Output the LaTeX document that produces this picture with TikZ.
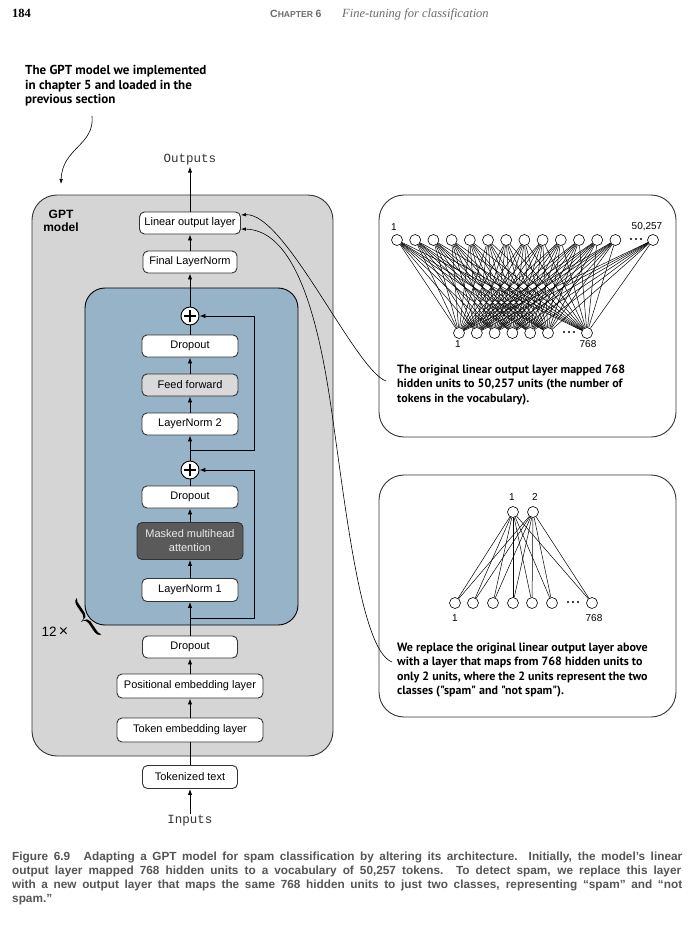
\documentclass[tikz,border=0pt]{standalone}
\usepackage{fontspec}
\setmainfont{Liberation Sans}
\newfontfamily\boxfont{Liberation Sans}
\newfontfamily\monofont{Liberation Mono}
\newfontfamily\notefont{PT Sans}
\newfontfamily\serifhead{Liberation Serif}
\newfontfamily\capfont{Liberation Sans}
\usetikzlibrary{arrows.meta,calc}

\definecolor{gptgray}{HTML}{D5D5D5}
\definecolor{blockblue}{HTML}{96B3C8}
\definecolor{ffgray}{HTML}{D9D9D9}
\definecolor{attgray}{HTML}{5A5A5A}
\definecolor{edgegray}{HTML}{333333}
\definecolor{capgray}{HTML}{555555}

\tikzset{
  layer/.style={draw=edgegray, line width=0.9pt, rounded corners=5pt, fill=white,
    font=\boxfont\fontsize{11}{13}\selectfont, inner sep=0pt, minimum height=22pt},
  flow/.style={-{Latex[length=6pt,width=4.5pt]}, line width=0.9pt},
  plain/.style={line width=0.9pt},
  plus/.style={circle, draw=black, fill=white, line width=0.9pt, minimum size=18pt, inner sep=0pt,
    path picture={\draw[line width=1.1pt]
      ([xshift=-6pt]path picture bounding box.center) -- ([xshift=6pt]path picture bounding box.center)
      ([yshift=-6pt]path picture bounding box.center) -- ([yshift=6pt]path picture bounding box.center);}},
  mono/.style={font=\monofont\fontsize{12.5}{14}\selectfont, text=edgegray, inner sep=1pt},
  panel/.style={draw=edgegray, line width=0.9pt, rounded corners=25pt, fill=white},
  unit/.style={circle, draw=black, fill=white, minimum size=11pt, inner sep=0pt, line width=0.6pt},
  net/.style={line width=0.5pt},
  unitlabel/.style={font=\boxfont\fontsize{10}{12}\selectfont, inner sep=0pt},
  note/.style={font=\notefont\bfseries\fontsize{12}{14.2}\selectfont, align=left, inner sep=0pt},
  notearrow/.style={-{Latex[length=5pt,width=3.5pt]}, line width=0.6pt},
  capline/.style={font=\capfont\bfseries\fontsize{11.8}{13}\selectfont, text=capgray, anchor=base west, inner sep=0pt}
}
% three dots standing for the units left out of a layer
\newcommand\elide[1]{\foreach \k in {-5,0,5} \fill ($(#1)+(\k,0)$) circle (1.15pt);}

\begin{document}
\begin{tikzpicture}[x=1pt,y=-1pt]
\useasboundingbox[fill=white] (0,0) rectangle (694,932);

% page header
\node[anchor=base west, inner sep=0pt, font=\serifhead\bfseries\fontsize{12.5}{14}\selectfont] (pagenum) at (12,17) {184};
\node[anchor=base west, inner sep=0pt, text=gray!85!black, font=\boxfont\bfseries] (chapter) at (270,17)
  {\fontsize{10.5}{12}\selectfont C\fontsize{8.6}{12}\selectfont HAPTER \fontsize{10.5}{12}\selectfont 6};
\node[anchor=base west, inner sep=0pt, text=gray!85!black, font=\serifhead\itshape\fontsize{12.5}{14}\selectfont] (chtitle) at (342,17)
  {Fine-tuning for classification};

% annotation on the left
\node[note, anchor=north west, font=\notefont\bfseries\fontsize{13}{14.6}\selectfont] (gptnote) at (25,65)
  {The GPT model we implemented\\in chapter 5 and loaded in the\\previous section};

% GPT model container
\node[draw=edgegray, fill=gptgray, line width=0.9pt, rounded corners=25pt,
  minimum width=301pt, minimum height=561pt, inner sep=0pt] (gpt) at (182.5,475.5) {};
\node[font=\boxfont\bfseries\fontsize{12}{13}\selectfont, align=center, inner sep=0pt] (gptlabel) at (61,221) {GPT\\model};

\coordinate (noteend) at (92,116);
\draw[notearrow] (noteend) .. controls (95,145) and (62,148) .. (61,184);

% transformer block
\node[draw=black, fill=blockblue, line width=0.9pt, rounded corners=20pt,
  minimum width=213pt, minimum height=337pt, inner sep=0pt] (block) at (191.5,456.5) {};

% layers
\node[layer, minimum width=101pt] (lin) at (190,223) {Linear output layer};
\node[layer, minimum width=94pt] (fln) at (190,262) {Final LayerNorm};
\node[plus] (p1) at (190,316) {};
\node[layer, minimum width=96pt] (drop1) at (190,346) {Dropout};
\node[layer, minimum width=96pt, fill=ffgray] (ff) at (190,385) {Feed forward};
\node[layer, minimum width=96pt] (ln2) at (190,424) {LayerNorm 2};
\node[plus] (p2) at (190,470) {};
\node[layer, minimum width=96pt] (drop2) at (190,497) {Dropout};
\node[layer, minimum width=106pt, minimum height=37pt, fill=attgray, text=white!92!black, align=center,
  font=\boxfont\fontsize{11}{14}\selectfont] (mma) at (190,541) {Masked multihead\\attention};
\node[layer, minimum width=96pt, minimum height=23pt] (ln1) at (190,590) {LayerNorm 1};
\node[layer, minimum width=95pt] (drop0) at (190,647) {Dropout};
\node[layer, minimum width=146pt, minimum height=24pt] (pos) at (190,686) {Positional embedding layer};
\node[layer, minimum width=146pt, minimum height=24pt] (tok) at (190,730) {Token embedding layer};
\node[layer, minimum width=95pt, minimum height=23pt] (tkt) at (190,777) {Tokenized text};

\node[mono] (outputs) at (190,160) {Outputs};
\node[mono] (inputs) at (190,821) {Inputs};

% repetition marker: count and a tilted curly brace
\node[font=\boxfont\fontsize{13.5}{14}\selectfont, inner sep=0pt] (rep) at (55,632) {12\,{\fontsize{16}{16}\selectfont ×}};
\begin{scope}[shift={(85,619)}, x=1pt, y=1pt, rotate=34]
  \fill (5,22) .. controls (1,21) and (0.6,18) .. (0.6,14) -- (0.6,5)
    .. controls (0.6,2) and (-1,0.6) .. (-5,0)
    .. controls (-1,-0.6) and (0.6,-2) .. (0.6,-5) -- (0.6,-14)
    .. controls (0.6,-18) and (1,-21) .. (5,-22)
    .. controls (2.8,-20) and (3.2,-17) .. (3.2,-14) -- (3.2,-5)
    .. controls (3.2,-2) and (1.5,-0.4) .. (-5,0)
    .. controls (1.5,0.4) and (3.2,2) .. (3.2,5) -- (3.2,14)
    .. controls (3.2,17) and (2.8,20) .. (5,22) -- cycle;
\end{scope}

% main data flow
\draw[flow] (inputs) -- (tkt);
\draw[plain] (tkt) -- (tok);
\draw[flow] (tok) -- (pos);
\draw[flow] (pos) -- (drop0);
\draw[flow] (drop0) -- (ln1);
\draw[flow] (ln1) -- (mma);
\draw[flow] (mma) -- (drop2);
\draw[plain] (drop2) -- (p2);
\draw[flow] (p2) -- (ln2);
\draw[flow] (ln2) -- (ff);
\draw[flow] (ff) -- (drop1);
\draw[plain] (drop1) -- (p1);
\draw[flow] (p1) -- (fln);
\draw[flow] (fln) -- (lin);
\draw[flow] (lin) -- (outputs);

% shortcut connections
\coordinate (r1) at (190,450);
\coordinate (r1c) at (254,450);
\draw[flow] (r1) -- (r1c) |- (p1.east);
\coordinate (r2) at (190,618);
\coordinate (r2c) at (254,618);
\draw[flow] (r2) -- (r2c) |- (p2.east);

% panel: original output layer
\node[panel, minimum width=297pt, minimum height=242pt, inner sep=0pt] (panelA) at (527.5,316) {};
\foreach \i in {0,...,12} \node[unit] (ta\i) at ({397+18.2*\i},240) {};
\node[unit] (ta13) at (653,240) {};
\foreach \j in {0,...,5} \node[unit] (ba\j) at ({459+17.8*\j},333) {};
\node[unit] (ba6) at (587,333) {};
\foreach \i in {0,...,13} \foreach \j in {0,...,6} \draw[net] (ta\i) -- (ba\j);
\coordinate (dotsA) at (636,239);
\coordinate (dotsB) at (569,332);
\elide{dotsA}
\elide{dotsB}
\node[unitlabel] (la1) at (394,227) {1};
\node[unitlabel] (la2) at (647,227) {50,257};
\node[unitlabel] (la3) at (458,344) {1};
\node[unitlabel] (la4) at (588,344) {768};
\node[note, anchor=north west] (noteA) at (397,365)
  {The original linear output layer mapped 768\\hidden units to 50,257 units (the number of\\tokens in the vocabulary).};

% panel: replacement output layer
\node[panel, minimum width=297pt, minimum height=242pt, inner sep=0pt] (panelB) at (527.5,596) {};
\node[unit] (tb1) at (513,512) {};
\node[unit] (tb2) at (533,512) {};
\foreach \j/\x in {0/455,1/473,2/493,3/513,4/532,5/552,6/592} \node[unit] (bb\j) at (\x,603) {};
\foreach \i in {1,2} \foreach \j in {0,...,6} \draw[net] (tb\i) -- (bb\j);
\coordinate (dotsC) at (573,602);
\elide{dotsC}
\node[unitlabel] (lb1) at (512,497) {1};
\node[unitlabel] (lb2) at (535,497) {2};
\node[unitlabel] (lb3) at (455,618) {1};
\node[unitlabel] (lb4) at (594,618) {768};
\node[note, anchor=north west] (noteB) at (397,643)
  {We replace the original linear output layer above\\with a layer that maps from 768 hidden units to\\only 2 units, where the 2 units represent the two\\classes ("spam" and "not spam").};

% callouts to the output layer
\coordinate (endA) at (386,381);
\draw[notearrow] (endA) .. controls (355,370) and (285,212) .. ([yshift=8pt]lin.east);
\coordinate (endB) at (392,662);
\coordinate (midB) at (330,400);
\draw[notearrow] (endB) .. controls (360,650) and (345,500) .. (midB) .. controls (315,300) and (290,230) .. ([yshift=-6pt]lin.east);

% figure caption
\node[capline] (cap1) at (12,860) {\makebox[670pt][s]{Figure 6.9\hspace{8pt} Adapting a GPT model for spam classification by altering its architecture. Initially, the model’s linear}};
\node[capline] (cap2) at (12,874) {\makebox[669pt][s]{output layer mapped 768 hidden units to a vocabulary of 50,257 tokens. To detect spam, we replace this layer}};
\node[capline] (cap3) at (12,888) {\makebox[670pt][s]{with a new output layer that maps the same 768 hidden units to just two classes, representing “spam” and “not}};
\node[capline] (cap4) at (12,902) {spam.”};
\end{tikzpicture}
\end{document}
